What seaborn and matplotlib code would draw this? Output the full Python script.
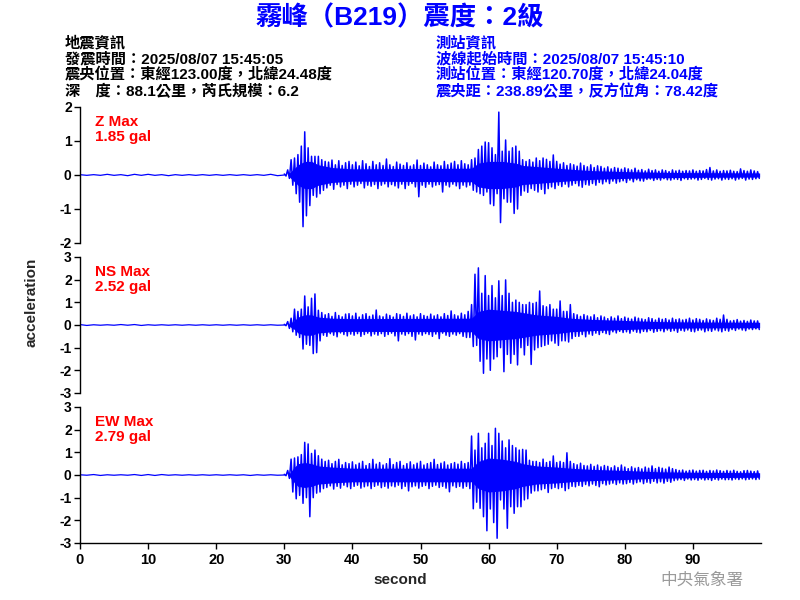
import numpy as np
import pandas as pd
import matplotlib
matplotlib.use("Agg")
import matplotlib.pyplot as plt
import seaborn as sns

# ---------------- data (peak envelopes) ----------------
# pre-event noise, 2 s bins starting at 0 s
z_pre_up = [0.01, 0.01, 0.02, 0.01, 0.02, 0.02, 0.01, 0.01, 0.01, 0.01, 0.01, 0.01, 0.01, 0.01, 0.02]
z_pre_lo = [-0.01, -0.01, -0.01, -0.02, -0.01, -0.01, -0.02, -0.01, -0.01, -0.01, -0.01, -0.01, -0.01, -0.01, -0.02]
ns_pre_up = [0.02, 0.01, 0.01, 0.02, 0.02, 0.01, 0.01, 0.01, 0.01, 0.01, 0.01, 0.01, 0.01, 0.01, 0.01]
ns_pre_lo = [-0.02, -0.01, -0.01, -0.01, -0.02, -0.01, -0.01, -0.01, -0.01, -0.01, -0.01, -0.01, -0.01, -0.01, -0.01]
ew_pre_up = [0.01, 0.02, 0.01, 0.01, 0.02, 0.02, 0.02, 0.01, 0.01, 0.01, 0.01, 0.01, 0.01, 0.01, 0.01]
ew_pre_lo = [-0.01, -0.02, -0.01, -0.01, -0.02, -0.02, -0.01, -0.01, -0.01, -0.01, -0.01, -0.01, -0.02, -0.01, -0.01]

# event part, 0.5 s bins from 30.0 s to 99.5 s (upper / lower peaks)
z_up = [0.03, 0.15, 0.45, 0.5, 0.6, 0.85, 1.27, 0.8, 0.55, 0.55,
        0.55, 0.45, 0.4, 0.38, 0.44, 0.3, 0.42, 0.28, 0.36, 0.4,
        0.3, 0.38, 0.27, 0.42, 0.33, 0.25, 0.4, 0.3, 0.36, 0.28,
        0.47, 0.3, 0.25, 0.38, 0.32, 0.28, 0.36, 0.26, 0.3, 0.44,
        0.28, 0.35, 0.3, 0.24, 0.38, 0.3, 0.27, 0.4, 0.3, 0.35,
        0.4, 0.3, 0.42, 0.33, 0.3, 0.45, 0.5, 0.75, 0.85, 0.97,
        0.95, 0.8, 0.6, 1.85, 0.7, 1.03, 0.7, 0.8, 0.85, 0.7,
        0.45, 0.4, 0.45, 0.38, 0.5, 0.42, 0.5, 0.46, 0.4, 0.59,
        0.4, 0.32, 0.36, 0.28, 0.33, 0.3, 0.26, 0.35, 0.28, 0.24,
        0.3, 0.22, 0.27, 0.25, 0.2, 0.24, 0.18, 0.22, 0.2, 0.17,
        0.21, 0.18, 0.15, 0.2, 0.14, 0.16, 0.12, 0.17, 0.13, 0.15,
        0.11, 0.15, 0.13, 0.1, 0.15, 0.12, 0.14, 0.11, 0.13, 0.12,
        0.15, 0.11, 0.13, 0.12, 0.16, 0.22, 0.12, 0.15, 0.11, 0.13,
        0.12, 0.14, 0.11, 0.1, 0.18, 0.13, 0.11, 0.15, 0.12, 0.1]
z_lo = [-0.03, -0.1, -0.3, -0.55, -0.8, -1.52, -1.2, -0.9, -0.6, -0.65,
        -0.55, -0.45, -0.38, -0.3, -0.42, -0.28, -0.35, -0.3, -0.4, -0.27,
        -0.35, -0.3, -0.25, -0.38, -0.3, -0.33, -0.28, -0.4, -0.3, -0.26,
        -0.35, -0.28, -0.32, -0.38, -0.27, -0.4, -0.3, -0.25, -0.35, -0.64,
        -0.3, -0.36, -0.27, -0.35, -0.3, -0.28, -0.5, -0.3, -0.35, -0.27,
        -0.32, -0.4, -0.3, -0.35, -0.3, -0.45, -0.5, -0.55, -0.6, -0.5,
        -0.85, -0.9, -0.55, -1.4, -0.7, -0.8, -0.8, -1.13, -1.0, -0.6,
        -0.47, -0.51, -0.4, -0.45, -0.5, -0.42, -0.55, -0.4, -0.35, -0.4,
        -0.3, -0.34, -0.27, -0.35, -0.3, -0.25, -0.32, -0.36, -0.28, -0.3,
        -0.25, -0.3, -0.22, -0.26, -0.2, -0.25, -0.18, -0.24, -0.2, -0.17,
        -0.22, -0.15, -0.2, -0.14, -0.17, -0.18, -0.13, -0.12, -0.16, -0.13,
        -0.15, -0.11, -0.14, -0.15, -0.12, -0.13, -0.16, -0.11, -0.13, -0.12,
        -0.11, -0.15, -0.13, -0.1, -0.13, -0.15, -0.12, -0.11, -0.15, -0.12,
        -0.13, -0.11, -0.15, -0.12, -0.1, -0.15, -0.12, -0.13, -0.11, -0.1]

ns_up = [0.03, 0.15, 0.3, 0.7, 0.6, 0.7, 1.28, 0.8, 1.18, 1.37,
         0.65, 0.55, 0.45, 0.5, 0.38, 0.55, 0.42, 0.36, 0.48, 0.5,
         0.4, 0.52, 0.35, 0.45, 0.5, 0.38, 0.44, 0.66, 0.4, 0.36,
         0.48, 0.42, 0.35, 0.5, 0.46, 0.38, 0.52, 0.4, 0.45, 0.36,
         0.5, 0.42, 0.38, 0.48, 0.4, 0.45, 0.36, 0.5, 0.42, 0.62,
         0.45, 0.4, 0.52, 0.45, 0.6, 0.9, 2.24, 2.52, 1.4, 2.18,
         1.3, 1.74, 1.2, 1.95, 1.3, 1.99, 1.4, 1.0, 1.1, 1.0,
         0.9, 0.9, 1.0, 0.95, 1.0, 1.5, 0.85, 0.8, 0.9, 0.7,
         0.7, 1.06, 0.6, 0.6, 0.9, 0.5, 0.45, 0.38, 0.46, 0.4,
         0.36, 0.45, 0.32, 0.4, 0.35, 0.28, 0.36, 0.3, 0.4, 0.28,
         0.35, 0.3, 0.26, 0.35, 0.3, 0.27, 0.24, 0.32, 0.28, 0.22,
         0.3, 0.25, 0.28, 0.22, 0.3, 0.24, 0.27, 0.22, 0.25, 0.3,
         0.22, 0.28, 0.25, 0.2, 0.27, 0.23, 0.2, 0.3, 0.25, 0.44,
         0.25, 0.18, 0.2, 0.24, 0.17, 0.2, 0.16, 0.22, 0.18, 0.18]
ns_lo = [-0.03, -0.15, -0.3, -0.45, -0.55, -1.06, -0.85, -0.9, -1.26, -1.22,
         -0.7, -0.45, -0.5, -0.38, -0.45, -0.52, -0.35, -0.42, -0.48, -0.4,
         -0.45, -0.38, -0.5, -0.42, -0.36, -0.48, -0.4, -0.45, -0.38, -0.5,
         -0.42, -0.36, -0.48, -0.7, -0.4, -0.45, -0.38, -0.5, -0.66, -0.4,
         -0.45, -0.38, -0.42, -0.5, -0.4, -0.6, -0.36, -0.45, -0.5, -0.4,
         -0.45, -0.38, -0.5, -0.55, -0.55, -0.95, -0.9, -1.6, -2.13, -1.5,
         -2.0, -1.5, -1.4, -1.0, -2.06, -1.3, -1.69, -1.3, -1.76, -1.0,
         -1.32, -0.9, -1.74, -1.1, -1.0, -0.95, -0.9, -0.85, -0.7, -0.8,
         -0.9, -0.7, -0.7, -0.75, -0.6, -0.5, -0.5, -0.42, -0.52, -0.4,
         -0.45, -0.36, -0.42, -0.33, -0.38, -0.42, -0.3, -0.35, -0.28, -0.33,
         -0.3, -0.36, -0.27, -0.32, -0.35, -0.28, -0.3, -0.24, -0.32, -0.28,
         -0.25, -0.3, -0.22, -0.28, -0.25, -0.32, -0.24, -0.27, -0.22, -0.28,
         -0.3, -0.24, -0.22, -0.3, -0.25, -0.28, -0.22, -0.26, -0.3, -0.24,
         -0.27, -0.2, -0.24, -0.18, -0.22, -0.25, -0.18, -0.2, -0.17, -0.2]

ew_up = [0.03, 0.2, 0.7, 0.75, 0.8, 0.9, 1.44, 1.37, 0.95, 1.1,
         0.85, 0.7, 0.6, 0.65, 0.5, 0.6, 0.69, 0.45, 0.55, 0.5,
         0.58, 0.45, 0.52, 0.6, 0.42, 0.5, 0.69, 0.48, 0.55, 0.44,
         0.5, 0.72, 0.46, 0.55, 0.6, 0.42, 0.5, 0.58, 0.45, 0.52,
         0.6, 0.44, 0.5, 0.55, 0.69, 0.46, 0.52, 0.58, 0.44, 0.5,
         0.55, 0.48, 0.6, 0.5, 0.55, 1.72, 1.1, 1.84, 1.2, 1.4,
         1.84, 1.3, 2.06, 1.84, 1.5, 1.2, 1.55, 1.3, 1.2, 1.1,
         1.13, 1.1, 0.65, 0.6, 0.6, 0.55, 0.7, 0.55, 0.6, 0.84,
         0.55, 0.6, 0.55, 0.98, 0.6, 0.5, 0.45, 0.52, 0.42, 0.4,
         0.47, 0.38, 0.44, 0.36, 0.42, 0.38, 0.32, 0.4, 0.33, 0.44,
         0.35, 0.28, 0.36, 0.3, 0.33, 0.27, 0.35, 0.3, 0.4, 0.28,
         0.34, 0.3, 0.26, 0.35, 0.28, 0.24, 0.2, 0.22, 0.17, 0.2,
         0.22, 0.17, 0.2, 0.21, 0.16, 0.2, 0.18, 0.22, 0.19, 0.16,
         0.2, 0.17, 0.21, 0.16, 0.14, 0.19, 0.2, 0.17, 0.15, 0.18]
ew_lo = [-0.03, -0.15, -0.75, -1.05, -0.9, -1.25, -1.0, -1.84, -1.0, -0.8,
         -0.75, -0.6, -0.55, -0.48, -0.62, -0.5, -0.58, -0.45, -0.52, -0.6,
         -0.5, -0.45, -0.58, -0.52, -0.48, -0.6, -0.5, -0.45, -0.56, -0.5,
         -0.58, -0.48, -0.52, -0.45, -0.6, -0.5, -0.7, -0.52, -0.48, -0.58,
         -0.5, -0.46, -0.6, -0.5, -0.45, -0.55, -0.5, -0.58, -0.74, -0.48,
         -0.55, -0.5, -0.58, -0.5, -0.6, -1.49, -1.2, -1.47, -1.84, -2.46,
         -1.5, -2.1, -2.79, -1.1, -1.5, -2.35, -1.4, -1.69, -1.4, -1.4,
         -1.1, -1.05, -0.8, -0.7, -0.7, -0.65, -0.6, -0.77, -0.6, -0.55,
         -0.6, -0.55, -0.69, -0.6, -0.5, -0.52, -0.46, -0.5, -0.42, -0.48,
         -0.4, -0.46, -0.52, -0.38, -0.44, -0.4, -0.36, -0.42, -0.35, -0.4,
         -0.38, -0.33, -0.4, -0.34, -0.3, -0.38, -0.32, -0.36, -0.28, -0.35,
         -0.3, -0.36, -0.28, -0.32, -0.25, -0.22, -0.2, -0.24, -0.18, -0.22,
         -0.2, -0.23, -0.18, -0.22, -0.2, -0.24, -0.19, -0.22, -0.18, -0.21,
         -0.2, -0.22, -0.18, -0.2, -0.17, -0.21, -0.19, -0.17, -0.2, -0.18]

# half-width of the solid core band, read at these times
core_times = [30.7, 31.5, 32, 33, 34, 35, 37, 40, 57.5, 58.5, 60, 62, 64, 65,
              67, 70, 72, 75, 80, 85, 90, 99.8]
z_core = [0.05, 0.2, 0.3, 0.4, 0.4, 0.3, 0.22, 0.18, 0.2, 0.35, 0.4, 0.4, 0.35,
          0.28, 0.25, 0.2, 0.17, 0.13, 0.1, 0.08, 0.07, 0.06]
ns_core = [0.05, 0.2, 0.35, 0.45, 0.45, 0.35, 0.3, 0.28, 0.3, 0.6, 0.7, 0.65, 0.6,
           0.55, 0.45, 0.38, 0.3, 0.25, 0.2, 0.15, 0.13, 0.12]
ew_core = [0.05, 0.35, 0.5, 0.55, 0.5, 0.4, 0.35, 0.3, 0.3, 0.6, 0.75, 0.7, 0.6,
           0.5, 0.4, 0.35, 0.3, 0.25, 0.2, 0.14, 0.12, 0.1]

components = ["Z", "NS", "EW"]
max_labels = ["1.85 gal", "2.52 gal", "2.79 gal"]
y_limits = [2, 3, 3]
x_ticks = [0, 10, 20, 30, 40, 50, 60, 70, 80, 90]

title = "霧峰（B219）震度：2級"
left_info = ["地震資訊",
             "發震時間：2025/08/07 15:45:05",
             "震央位置：東經123.00度，北緯24.48度",
             "深　度：88.1公里，芮氏規模：6.2"]
right_info = ["測站資訊",
              "波線起始時間：2025/08/07 15:45:10",
              "測站位置：東經120.70度，北緯24.04度",
              "震央距：238.89公里，反方位角：78.42度"]
footer = "中央氣象署"


def build(pre_up, pre_lo, up, lo):
    t_pre = np.arange(0, 30, 2.0)
    t_ev = np.arange(30, 100, 0.5)
    ts, vs, seg = [], [], []
    for t, a, b in zip(t_pre, pre_up, pre_lo):
        ts += [t, t + 1.0]
        vs += [a, b]
        seg += ["pre", "pre"]
    ts.append(30.0); vs.append(0.0); seg.append("pre")
    for t, a, b in zip(t_ev, up, lo):
        ts += [t, t + 0.25]
        vs += [a, b]
        seg += ["event", "event"]
    return pd.DataFrame({"second": ts, "acceleration": vs, "part": seg})


frames = [build(z_pre_up, z_pre_lo, z_up, z_lo),
          build(ns_pre_up, ns_pre_lo, ns_up, ns_lo),
          build(ew_pre_up, ew_pre_lo, ew_up, ew_lo)]
cores = [z_core, ns_core, ew_core]

# ---------------- style ----------------
sns.set_style("ticks")
plt.rcParams["font.family"] = ["Liberation Sans", "Noto Sans CJK TC", "DejaVu Sans"]
plt.rcParams["axes.unicode_minus"] = False

W, H = 800, 600
fig = plt.figure(figsize=(8, 6), dpi=100)


def px(x, y):
    return x / W, 1 - y / H


panel_px = [(107, 243), (257, 393), (407, 543)]
x0, x1 = 80, 761
BLUE = "#0000ff"

for i, (df, (ptop, pbot)) in enumerate(zip(frames, panel_px)):
    ax = fig.add_axes([x0 / W, 1 - pbot / H, (x1 - x0) / W, (pbot - ptop) / H])
    core = np.array(cores[i])
    ax.fill_between(core_times, -core, core, color=BLUE, linewidth=0)
    sns.lineplot(data=df[df["part"] == "pre"], x="second", y="acceleration",
                 ax=ax, color=BLUE, linewidth=0.9, estimator=None, sort=False)
    sns.lineplot(data=df[df["part"] == "event"], x="second", y="acceleration",
                 ax=ax, color=BLUE, linewidth=1.1, estimator=None, sort=False)
    lim = y_limits[i]
    ax.set_xlim(0, 100)
    ax.set_ylim(-lim, lim)
    ax.set_yticks(list(range(-lim, lim + 1)))
    ax.set_xlabel("")
    ax.set_ylabel("")
    for s in ["top", "right"]:
        ax.spines[s].set_visible(False)
    for s in ["left", "bottom"]:
        ax.spines[s].set_linewidth(1.0)
        ax.spines[s].set_color("black")
    ax.tick_params(axis="both", direction="out", length=4, width=1,
                   colors="black", labelsize=10, pad=2)
    for lab in ax.get_yticklabels():
        lab.set_fontweight("bold")
    if i < 2:
        ax.spines["bottom"].set_visible(False)
        ax.tick_params(axis="x", bottom=False, labelbottom=False)
    else:
        ax.set_xticks(x_ticks)
        for lab in ax.get_xticklabels():
            lab.set_fontweight("bold")
        ax.tick_params(axis="x", labelsize=10.5, pad=3)
    ax.patch.set_alpha(0)
    # red max labels
    fig.text(*px(95, ptop + 15), f"{components[i]} Max", color="red",
             fontsize=11, fontweight="bold", va="center", ha="left")
    fig.text(*px(95, ptop + 30), max_labels[i], color="red",
             fontsize=11, fontweight="bold", va="center", ha="left")

# axis labels
fig.text(*px(32, 302), "acceleration", rotation=90, fontsize=11,
         fontweight="bold", va="center", ha="center")
fig.text(*px(400, 580), "second", fontsize=11, fontweight="bold",
         va="center", ha="center")

# title and info blocks
fig.text(*px(400, 18), title, color=BLUE, fontsize=19, fontweight="bold",
         va="center", ha="center")
line_y = [43, 59, 75, 91]
for txt, y in zip(left_info, line_y):
    fig.text(*px(65, y), txt, color="black", fontsize=11, fontweight="bold",
             va="center", ha="left")
for txt, y in zip(right_info, line_y):
    fig.text(*px(436, y), txt, color=BLUE, fontsize=11, fontweight="bold",
             va="center", ha="left")

fig.text(*px(702, 580), footer, color="#9a9a9a", fontsize=12,
         va="center", ha="center", family=["Noto Sans CJK TC", "DejaVu Sans"])

fig.savefig("out.png", dpi=100, facecolor="white")
